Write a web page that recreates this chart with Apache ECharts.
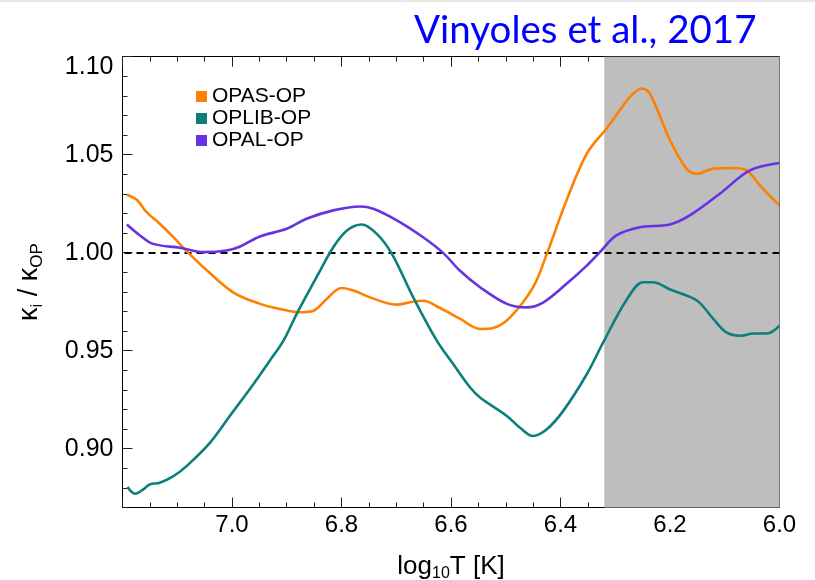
<!DOCTYPE html>
<html>
<head>
<meta charset="utf-8">
<script src="https://cdn.jsdelivr.net/npm/echarts@6/dist/echarts.min.js"></script>
<style>
html,body{margin:0;padding:0;background:#fff;}
#chart{width:815px;height:580px;}
</style>
</head>
<body>
<div id="chart"></div>
<script>
// ---- data ----
const opasT = [7.192,7.174,7.156,7.132,7.107,7.083,7.046,6.998,6.949,6.912,6.876,6.851,6.827,6.800,6.778,6.748,6.699,6.675,6.651,6.620,6.583,6.547,6.523,6.492,6.450,6.425,6.389,6.352,6.316,6.298,6.273,6.252,6.237,6.200,6.170,6.151,6.121,6.084,6.060,6.036,6.000];
const opasK = [1.0296,1.0270,1.0207,1.0148,1.0079,1.0008,0.9910,0.9798,0.9739,0.9713,0.9696,0.9704,0.9764,0.9820,0.9807,0.9772,0.9735,0.9747,0.9755,0.9718,0.9662,0.9611,0.9616,0.9670,0.9824,0.9994,1.0267,1.0506,1.0634,1.0702,1.0795,1.0838,1.0813,1.0574,1.0429,1.0403,1.0429,1.0432,1.0420,1.0344,1.0241];

const oplibT = [7.191,7.177,7.162,7.150,7.132,7.107,7.083,7.040,7.004,6.961,6.931,6.906,6.882,6.839,6.815,6.790,6.763,6.736,6.708,6.669,6.626,6.596,6.565,6.547,6.498,6.474,6.450,6.425,6.395,6.352,6.322,6.280,6.249,6.231,6.200,6.151,6.121,6.097,6.072,6.048,6.023,6.000];
const oplibK = [0.8804,0.8770,0.8792,0.8818,0.8826,0.8860,0.8911,0.9031,0.9167,0.9329,0.9449,0.9551,0.9687,0.9909,1.0028,1.0113,1.0144,1.0097,0.9994,0.9772,0.9551,0.9432,0.9312,0.9261,0.9167,0.9107,0.9065,0.9099,0.9193,0.9380,0.9542,0.9756,0.9849,0.9849,0.9812,0.9756,0.9662,0.9593,0.9576,0.9588,0.9588,0.9628];

const opalT = [7.192,7.168,7.144,7.095,7.052,7.010,6.985,6.949,6.900,6.864,6.815,6.766,6.742,6.699,6.651,6.614,6.584,6.547,6.498,6.462,6.431,6.389,6.352,6.328,6.298,6.255,6.200,6.164,6.109,6.054,6.000];
const opalK = [1.0144,1.0088,1.0045,1.0025,1.0003,1.0011,1.0032,1.0083,1.0122,1.0173,1.0216,1.0236,1.0224,1.0165,1.0079,0.9998,0.9909,0.9824,0.9739,0.9721,0.9747,0.9841,0.9934,1.0003,1.0088,1.0130,1.0144,1.0190,1.0301,1.0420,1.0458];

const seriesNames = ['OPAS-OP','OPLIB-OP','OPAL-OP'];
const yLabelTicks = [0.90,0.95,1.00,1.05,1.10];
const yMinorTicks = [0.87,0.88,0.89,0.90,0.91,0.92,0.93,0.94,0.95,0.96,0.97,0.98,0.99,1.00,1.01,1.02,1.03,1.04,1.05,1.06,1.07,1.08,1.09,1.10];
const shadedRange = [6.32, 6.0];
const refLevel = 1.0;

// ---- chart ----
const zip = (a,b) => a.map((v,i)=>[v,b[i]]);
const FONT = 'Liberation Sans';
const colors = ['#ff8000','#0a7f7c','#6633e3'];
const TICK = {color:'#222', width:1};

const chart = echarts.init(document.getElementById('chart'));
const lineSeries = (name, data, color) => ({
  name, type:'line', data, smooth:0.35, showSymbol:false, symbol:'none', z:6,
  lineStyle:{color, width:2.6}, itemStyle:{color}
});

chart.setOption({
  animation:false,
  backgroundColor:'#fff',
  title:{
    text:'Vinyoles et al., 2017', left:409, top:6,
    textStyle:{fontFamily:'Lato', fontSize:38.5, fontWeight:'normal', color:'#0000ff'}
  },
  legend:{
    data:seriesNames, orient:'vertical', left:191, top:81, itemGap:1,
    icon:'rect', itemWidth:11, itemHeight:11,
    textStyle:{fontFamily:FONT, fontSize:21, color:'#000'}
  },
  grid:{left:122.5, right:35.5, top:56.7, bottom:72.5, show:false, containLabel:false, outerBoundsMode:'none'},
  xAxis:[{
    type:'value', min:6.0, max:7.2, interval:0.2, inverse:true, position:'bottom', z:3,
    axisLine:{show:true, lineStyle:{color:'#000', width:1}},
    axisTick:{show:true, inside:true, length:10, lineStyle:TICK},
    minorTick:{show:true, splitNumber:4, length:5, lineStyle:TICK},
    splitLine:{show:false},
    axisLabel:{fontFamily:FONT, fontSize:24, color:'#000', margin:6, showMaxLabel:false,
      formatter:v=>v.toFixed(1)},
    name:'{a|log}{s|10}{a|T [K]}', nameLocation:'middle', nameGap:44,
    nameTextStyle:{rich:{a:{fontFamily:FONT, fontSize:26, color:'#000'}, s:{fontFamily:FONT, fontSize:16, color:'#000', verticalAlign:'bottom', padding:[14,0,0,0]}}}
  },{
    type:'value', min:6.0, max:7.2, interval:0.2, inverse:true, position:'top', z:3,
    axisLine:{show:true, lineStyle:{color:'#000'}},
    axisTick:{show:true, inside:true, length:10, lineStyle:TICK},
    minorTick:{show:true, splitNumber:4, length:5, lineStyle:TICK},
    splitLine:{show:false}, axisLabel:{show:false}
  }],
  yAxis:[{
    type:'value', min:0.87, max:1.10, position:'left', z:3,
    axisLine:{show:true, lineStyle:{color:'#000'}},
    axisTick:{show:true, inside:true, length:10, customValues:yLabelTicks, lineStyle:TICK},
    splitLine:{show:false},
    axisLabel:{customValues:yLabelTicks, fontFamily:FONT, fontSize:25, color:'#000', margin:9,
      formatter:v=> Math.abs(v-1.10)<1e-6 ? '{t|'+v.toFixed(2)+'}' : v.toFixed(2),
      rich:{t:{fontFamily:FONT, fontSize:25, color:'#000', padding:[20,0,0,0]}}},
    name:'{k|κ}{s|i}{k| / κ}{s|OP}', nameLocation:'middle', nameRotate:90, nameGap:77,
    nameTextStyle:{rich:{k:{fontFamily:FONT, fontSize:27, color:'#000'}, s:{fontFamily:FONT, fontSize:17, color:'#000', verticalAlign:'bottom', padding:[14,0,0,0]}}}
  },{
    type:'value', min:0.87, max:1.10, position:'left', z:3,
    axisLine:{show:false},
    axisTick:{show:true, inside:true, length:5, customValues:yMinorTicks, lineStyle:TICK},
    splitLine:{show:false}, axisLabel:{show:false}
  },{
    type:'value', min:0.87, max:1.10, position:'right', z:8,
    axisLine:{show:true, lineStyle:{color:'#777'}},
    axisTick:{show:false},
    splitLine:{show:false}, axisLabel:{show:false}
  }],
  graphic:[{type:'line', shape:{x1:0,y1:1,x2:815,y2:1}, style:{stroke:'#d0d0d0', lineWidth:1}}],
  series:[
    {
      name:'shade', type:'line', data:[], z:4, silent:true,
      markArea:{silent:true, z:4, itemStyle:{color:'#bebebe'}, data:[[{xAxis:shadedRange[0]},{xAxis:shadedRange[1]}]]},
      markLine:{silent:true, z:5, symbol:'none', label:{show:false},
        lineStyle:{color:'#000', type:[7,5], width:2}, data:[{yAxis:refLevel}]}
    },
    lineSeries(seriesNames[0], zip(opasT, opasK), colors[0]),
    lineSeries(seriesNames[1], zip(oplibT, oplibK), colors[1]),
    lineSeries(seriesNames[2], zip(opalT, opalK), colors[2])
  ]
});
</script>
</body>
</html>
